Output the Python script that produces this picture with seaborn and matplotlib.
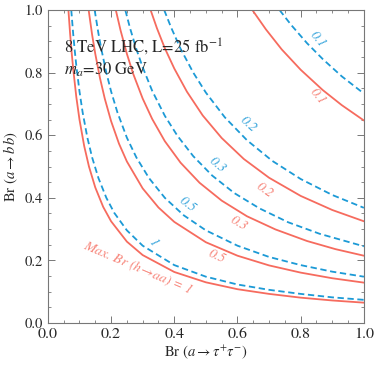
import numpy as np
import pandas as pd
import matplotlib
matplotlib.use("Agg")
import matplotlib.pyplot as plt
import seaborn as sns

# curves: Max. Br(h->aa) contours
# solid red = one set of limits, dashed blue = the other
red_levels = ["1", "0.5", "0.3", "0.2", "0.1"]
red_x = [
    [0.065, 0.07, 0.075, 0.08, 0.09, 0.10, 0.115, 0.13, 0.15, 0.175, 0.2, 0.25, 0.3, 0.4, 0.5, 0.6, 0.7, 0.8, 0.9, 1.0],
    [0.129, 0.14, 0.15, 0.165, 0.18, 0.2, 0.225, 0.25, 0.3, 0.35, 0.4, 0.5, 0.6, 0.7, 0.8, 0.9, 1.0],
    [0.215, 0.23, 0.25, 0.27, 0.3, 0.33, 0.37, 0.42, 0.48, 0.55, 0.63, 0.72, 0.82, 0.91, 1.0],
    [0.325, 0.345, 0.37, 0.4, 0.44, 0.49, 0.55, 0.62, 0.7, 0.8, 0.9, 1.0],
    [0.647, 0.69, 0.74, 0.8, 0.87, 0.93, 1.0],
]
red_y = [
    [1.0, 0.929, 0.867, 0.813, 0.722, 0.65, 0.565, 0.5, 0.433, 0.371, 0.325, 0.26, 0.217, 0.163, 0.13, 0.108, 0.093, 0.081, 0.072, 0.065],
    [1.0, 0.921, 0.86, 0.782, 0.717, 0.645, 0.573, 0.516, 0.43, 0.369, 0.323, 0.258, 0.215, 0.184, 0.161, 0.143, 0.129],
    [1.0, 0.935, 0.86, 0.796, 0.717, 0.652, 0.581, 0.512, 0.448, 0.391, 0.341, 0.299, 0.262, 0.236, 0.215],
    [1.0, 0.942, 0.878, 0.813, 0.739, 0.663, 0.591, 0.524, 0.464, 0.406, 0.361, 0.325],
    [1.0, 0.938, 0.874, 0.809, 0.744, 0.696, 0.647],
]

blue_levels = ["1", "0.5", "0.3", "0.2", "0.1"]
blue_x = [
    [0.074, 0.08, 0.085, 0.09, 0.1, 0.11, 0.125, 0.14, 0.16, 0.185, 0.21, 0.25, 0.3, 0.4, 0.5, 0.6, 0.7, 0.8, 0.9, 1.0],
    [0.148, 0.16, 0.17, 0.185, 0.2, 0.22, 0.25, 0.28, 0.32, 0.37, 0.43, 0.5, 0.6, 0.7, 0.8, 0.9, 1.0],
    [0.245, 0.26, 0.28, 0.3, 0.33, 0.37, 0.41, 0.46, 0.52, 0.59, 0.67, 0.76, 0.86, 1.0],
    [0.368, 0.39, 0.42, 0.46, 0.5, 0.56, 0.63, 0.71, 0.8, 0.9, 1.0],
    [0.733, 0.77, 0.82, 0.87, 0.93, 1.0],
]
blue_y = [
    [1.0, 0.925, 0.871, 0.822, 0.74, 0.673, 0.592, 0.529, 0.463, 0.4, 0.352, 0.296, 0.247, 0.185, 0.148, 0.123, 0.106, 0.093, 0.082, 0.074],
    [1.0, 0.925, 0.871, 0.8, 0.74, 0.673, 0.592, 0.529, 0.463, 0.4, 0.344, 0.296, 0.247, 0.211, 0.185, 0.164, 0.148],
    [1.0, 0.942, 0.875, 0.817, 0.742, 0.662, 0.598, 0.533, 0.471, 0.415, 0.366, 0.322, 0.285, 0.245],
    [1.0, 0.944, 0.876, 0.8, 0.736, 0.657, 0.584, 0.518, 0.46, 0.409, 0.368],
    [1.0, 0.952, 0.894, 0.843, 0.788, 0.733],
]

red = "#f66b5e"
blue = "#1c9ad6"

sns.set_style("ticks")
plt.rcParams["font.family"] = ["STIXGeneral", "DejaVu Serif"]
plt.rcParams["mathtext.fontset"] = "stix"

fig = plt.figure(figsize=(3.74, 3.70), dpi=100)
ax = fig.add_axes([0.128, 0.127, 0.845, 0.846])

for xs, ys in zip(red_x, red_y):
    sns.lineplot(x=xs, y=ys, ax=ax, color=red, lw=1.3, sort=False, estimator=None)
for xs, ys in zip(blue_x, blue_y):
    sns.lineplot(x=xs, y=ys, ax=ax, color=blue, lw=1.3, sort=False, estimator=None,
                 linestyle=(0, (3.5, 2)))

# contour labels
lab_kw = dict(fontsize=10, style="italic", ha="center", va="center")
red_lab_pos = [(0.285, 0.176, -23), (0.535, 0.211, -24), (0.604, 0.319, -30),
               (0.687, 0.425, -35), (0.854, 0.722, -50)]
blue_lab_pos = [(0.334, 0.258, -50), (0.443, 0.377, -37), (0.535, 0.505, -40),
                (0.633, 0.633, -42), (0.854, 0.904, -50)]
for lev, (lx, ly, rot) in zip(red_levels, red_lab_pos):
    txt = "Max. Br ($h\\!\\rightarrow\\!aa$) = 1" if lev == "1" else lev
    ax.text(lx, ly, txt, color="#f7857a", rotation=rot, **lab_kw)
for lev, (lx, ly, rot) in zip(blue_levels, blue_lab_pos):
    ax.text(lx, ly, lev, color="#3aa6dc", rotation=rot, **lab_kw)

ax.text(0.05, 0.88, "8 TeV LHC, L=25 fb$^{-1}$", fontsize=12, va="center")
ax.text(0.05, 0.81, "$m_a$=30 GeV", fontsize=12, va="center")

ax.set_xlim(0, 1)
ax.set_ylim(0, 1)
ax.set_xticks(np.arange(0, 1.01, 0.2))
ax.set_yticks(np.arange(0, 1.01, 0.2))
ax.set_xticks(np.arange(0, 1.01, 0.05), minor=True)
ax.set_yticks(np.arange(0, 1.01, 0.05), minor=True)
ax.tick_params(which="both", direction="in", top=True, right=True, color="#777777")
ax.tick_params(axis="x", labelsize=11.5)
ax.tick_params(axis="y", labelsize=10.5)
ax.tick_params(which="major", length=5, width=0.7)
ax.tick_params(which="minor", length=2.5, width=0.6)
for s in ax.spines.values():
    s.set_color("#777777")
    s.set_linewidth(0.8)

ax.set_xlabel("Br $(a\\rightarrow\\tau^{+}\\tau^{-})$", fontsize=10.5)
ax.set_ylabel("Br $(a\\rightarrow b\\,\\bar{b})$", fontsize=10.5)
ax.xaxis.set_label_coords(0.5, -0.065)
ax.yaxis.set_label_coords(-0.085, 0.5)

fig.savefig("out.png", dpi=100)
